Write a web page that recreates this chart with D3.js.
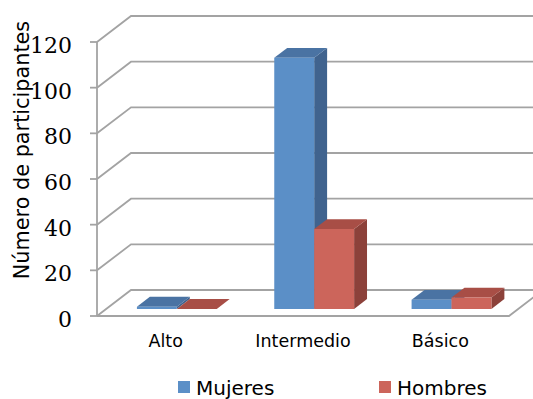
<!DOCTYPE html>
<html>
<head>
<meta charset="utf-8">
<script src="https://cdn.jsdelivr.net/npm/d3@7"></script>
<style>
  html, body { margin: 0; padding: 0; background: #fff; }
  svg { display: block; }
  .tick-label { font-family: "DejaVu Serif", "Liberation Serif", serif; font-size: 22px; }
  .sans { font-family: "DejaVu Sans", Verdana, sans-serif; }
</style>
</head>
<body>
<svg id="chart" width="533" height="399"></svg>
<script>
// Participants by level, split by sex
const categories = ["Alto", "Intermedio", "Básico"];
const seriesNames = ["Mujeres", "Hombres"];
const mujeres = [1, 110, 4];
const hombres = [0, 35, 5];
const yTicks = [0, 20, 40, 60, 80, 100, 120];

const colors = {
  Mujeres: { front: "#5b8fc7", top: "#4a73a3", side: "#40638e" },
  Hombres: { front: "#cc655b", top: "#a84e46", side: "#8c413a" }
};

const svg = d3.select("#chart");

// Front plane of the 3D box
const x0 = d3.scaleBand().domain(categories).range([97, 509]).paddingInner(0).paddingOuter(0);
const x1 = d3.scaleBand().domain(seriesNames).range([0, x0.bandwidth()]).paddingInner(0).paddingOuter(0.72);
const y = d3.scaleLinear().domain([0, 120]).range([316, 42]);

// Depth projection: z in [0,1] from front to back wall
const DX = 34, DY = -26;
const proj = (px, py, z) => [px + DX * z, py + DY * z];
const zFront = 0.27, zBack = 0.65;
const barShift = 2;

const gridColor = "#a3a3a3";
const grid = svg.append("g").attr("fill", "none").attr("stroke", gridColor).attr("stroke-width", 1.8);

// Side-wall and back-wall gridlines
yTicks.forEach(t => {
  const a = [x0.range()[0], y(t)];
  const b = proj(a[0], a[1], 1);
  grid.append("path").attr("d", d3.line()([a, b, [545, b[1]]]));
});

// Floor front and right edges
const fl = [[x0.range()[0], y(0)], [x0.range()[1], y(0)], proj(x0.range()[1], y(0), 1)];
grid.append("path").attr("d", d3.line()(fl));

// Vertical axis with tick marks
grid.append("path").attr("d", d3.line()([[97, y(120)], [97, y(0)]]));
yTicks.forEach(t => {
  grid.append("path").attr("d", d3.line()([[90, y(t)], [97, y(t)]]));
});

// Tick labels
svg.append("g").selectAll("text").data(yTicks).join("text")
  .attr("class", "tick-label")
  .attr("x", 72).attr("y", d => y(d) + 11)
  .attr("text-anchor", "end")
  .attr("fill", "#000")
  .text(d => d);

// Axis title
svg.append("text")
  .attr("class", "sans")
  .attr("transform", "translate(29,150) rotate(-90)")
  .attr("text-anchor", "middle")
  .style("font-size", "20.8px")
  .attr("fill", "#000")
  .text("Número de participantes");

// Bars
const bars = [];
categories.forEach((c, i) => {
  bars.push({ cat: c, s: "Mujeres", v: mujeres[i] });
  bars.push({ cat: c, s: "Hombres", v: hombres[i] });
});

const gBars = svg.append("g").attr("stroke", "none");
bars.forEach(b => {
  const xl = x0(b.cat) + x1(b.s) + barShift;
  const xr = xl + x1.bandwidth();
  const yt = y(b.v), yb = y(0);
  const c = colors[b.s];
  const FL = proj(xl, yt, zFront), FR = proj(xr, yt, zFront);
  const BL = proj(xl, yt, zBack), BR = proj(xr, yt, zBack);
  const FRb = proj(xr, yb, zFront), BRb = proj(xr, yb, zBack);
  const FLb = proj(xl, yb, zFront);
  const poly = pts => "M" + pts.map(p => p.join(",")).join("L") + "Z";
  gBars.append("path").attr("d", poly([FR, BR, BRb, FRb])).attr("fill", c.side);
  gBars.append("path").attr("d", poly([FL, BL, BR, FR])).attr("fill", c.top);
  gBars.append("path").attr("d", poly([FL, FR, FRb, FLb])).attr("fill", c.front);
});

// Category labels
svg.append("g").selectAll("text").data(categories).join("text")
  .attr("class", "sans")
  .attr("x", d => x0(d) + x0.bandwidth() / 2)
  .attr("y", 347)
  .attr("text-anchor", "middle")
  .style("font-size", "17.5px")
  .attr("fill", "#000")
  .text(d => d);

// Legend
const legendX = [178, 379];
const lg = svg.append("g");
seriesNames.forEach((s, i) => {
  lg.append("rect").attr("x", legendX[i]).attr("y", 381).attr("width", 12).attr("height", 12)
    .attr("fill", colors[s].front);
  lg.append("text").attr("class", "sans").attr("x", legendX[i] + 18).attr("y", 395)
    .style("font-size", "20px")
    .attr("fill", "#000")
    .text(s);
});
</script>
</body>
</html>
